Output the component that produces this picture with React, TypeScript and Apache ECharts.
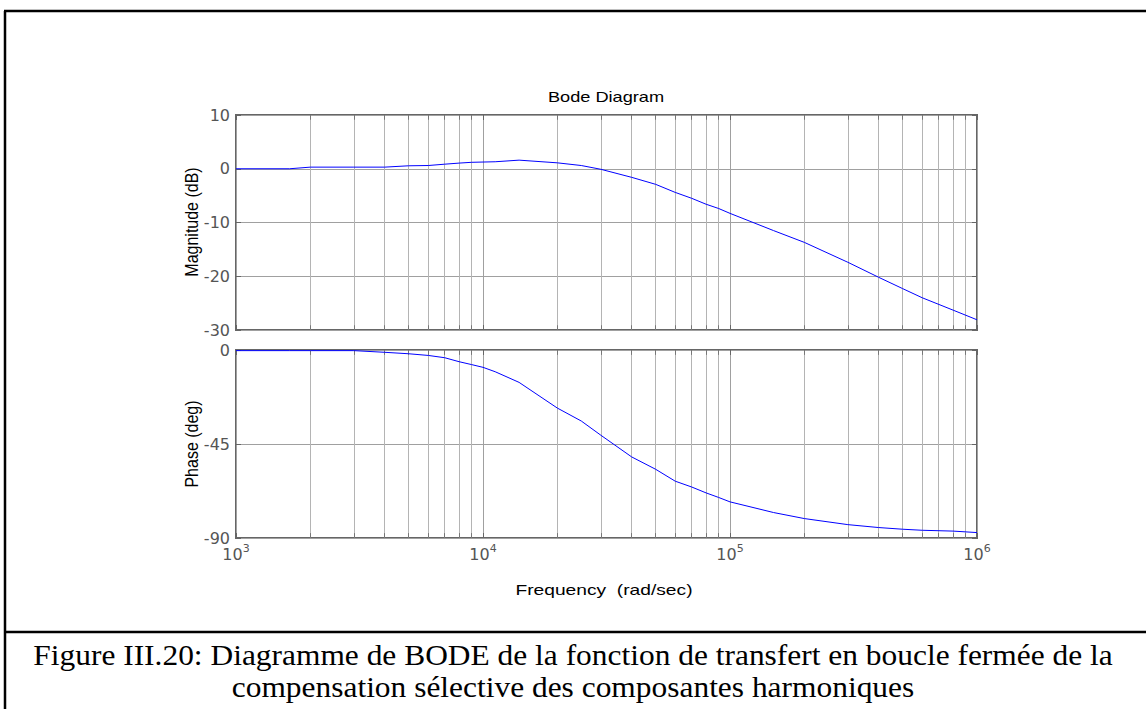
import React, { useEffect, useRef } from 'react';
import * as echarts from 'echarts';

const FREQ = [1000, 1650, 2000, 3000, 4000, 5000, 6000, 7000, 8000, 9000, 10000, 11200, 14000, 20000, 25000, 30000, 40000, 50000, 60000, 70000, 80000, 90000, 100000, 150000, 200000, 300000, 400000, 500000, 600000, 800000, 1000000];
const MAG_DB = [0, 0, 0.3, 0.3, 0.3, 0.55, 0.6, 0.85, 1.05, 1.2, 1.25, 1.3, 1.6, 1.1, 0.6, -0.1, -1.6, -2.9, -4.4, -5.5, -6.6, -7.4, -8.3, -11.5, -13.7, -17.4, -20.2, -22.3, -24.0, -26.3, -28.1];
const PHASE_DEG = [-0.3, -0.3, -0.3, -0.3, -1.1, -1.8, -2.6, -3.7, -5.6, -7.0, -8.3, -10.4, -15.5, -27.8, -34.0, -40.8, -51.2, -57.1, -62.8, -65.6, -68.4, -70.6, -72.7, -77.8, -80.7, -83.6, -85.0, -85.8, -86.3, -86.7, -87.4];
const MINOR_FREQS = [2000, 3000, 4000, 5000, 6000, 7000, 8000, 9000, 20000, 30000, 40000, 50000, 60000, 70000, 80000, 90000, 200000, 300000, 400000, 500000, 600000, 700000, 800000, 900000];

const TITLE = 'Bode Diagram';
const MAG_LABEL = 'Magnitude (dB)';
const PHASE_LABEL = 'Phase (deg)';
const FREQ_LABEL = 'Frequency  (rad/sec)';
const CAPTION_1 = 'Figure III.20: Diagramme de BODE de la fonction de transfert en boucle fermée de la';
const CAPTION_2 = 'compensation sélective des composantes harmoniques';

const TICK_COLOR = '#555555';
const GRID_COLOR = '#a0a0a0';
const MINOR_GRID_COLOR = '#b4b4b4';

function measure(text: string, font: string): number {
  const c = document.createElement('canvas').getContext('2d');
  if (!c) return 1000;
  c.font = font;
  return c.measureText(text).width;
}

export default function App() {
  const ref = useRef<HTMLDivElement>(null);

  useEffect(() => {
    if (!ref.current) return;
    const chart = echarts.init(ref.current, undefined, { renderer: 'svg' });

    const logAxis = { type: 'log', logBase: 10, min: 1000, max: 1000000, splitNumber: 3 };
    const tick = { show: true, inside: true, length: 5, lineStyle: { color: '#666', width: 1 } };

    const xAxis = [0, 1].flatMap((g) => [
      {
        ...logAxis,
        gridIndex: g,
        position: 'bottom',
        axisLine: { show: false, onZero: false },
        axisTick: tick,
        axisLabel:
          g === 0
            ? { show: false }
            : {
                show: true,
                margin: 5,
                formatter: (v: number) => `{b|10}{s|${Math.round(Math.log10(v))}}`,
                rich: {
                  b: { fontSize: 16, color: TICK_COLOR, fontFamily: 'DejaVu Sans' },
                  s: { fontSize: 11, color: TICK_COLOR, fontFamily: 'DejaVu Sans', padding: [0, 0, 12, 0] },
                },
              },
        splitLine: { show: true, lineStyle: { color: GRID_COLOR, width: 1 } },
      },
      {
        ...logAxis,
        gridIndex: g,
        position: 'top',
        axisLine: { show: false, onZero: false },
        axisTick: tick,
        axisLabel: { show: false },
        splitLine: { show: false },
      },
    ]);

    const yRanges = [
      { min: -30, max: 10, interval: 10 },
      { min: -90, max: 0, interval: 45 },
    ];
    const yAxis = yRanges.flatMap((r, g) => [
      {
        type: 'value',
        gridIndex: g,
        ...r,
        position: 'left',
        axisLine: { show: false, onZero: false },
        axisTick: tick,
        axisLabel: { color: TICK_COLOR, fontSize: 16, fontFamily: 'DejaVu Sans', margin: 6 },
        splitLine: { show: true, lineStyle: { color: GRID_COLOR, width: 1 } },
      },
      {
        type: 'value',
        gridIndex: g,
        ...r,
        position: 'right',
        axisLine: { show: false, onZero: false },
        axisTick: tick,
        axisLabel: { show: false },
        splitLine: { show: false },
      },
    ]);

    const minorGrid = {
      silent: true,
      symbol: ['none', 'none'],
      label: { show: false },
      animation: false,
      lineStyle: { color: MINOR_GRID_COLOR, width: 1, type: 'solid' },
      data: MINOR_FREQS.map((f) => ({ xAxis: f })),
    };

    const tickSeg = (r: { min: number; max: number }, frac: number) => ({
      silent: true,
      symbol: ['none', 'none'],
      label: { show: false },
      animation: false,
      lineStyle: { color: '#777', width: 1, type: 'solid' },
      data: MINOR_FREQS.flatMap((f) => [
        [{ coord: [f, r.max] }, { coord: [f, r.max - (r.max - r.min) * frac] }],
        [{ coord: [f, r.min] }, { coord: [f, r.min + (r.max - r.min) * frac] }],
      ]),
    });

    const capFont = '29px "Liberation Serif"';
    const capScale = 1080 / measure(CAPTION_1, capFont);

    chart.setOption({
      animation: false,
      backgroundColor: '#ffffff',
      grid: [
        { left: 236, top: 115, width: 741, height: 215, show: true, borderColor: '#666', borderWidth: 2, backgroundColor: 'transparent' },
        { left: 236, top: 350, width: 741, height: 188, show: true, borderColor: '#666', borderWidth: 2, backgroundColor: 'transparent' },
      ],
      xAxis,
      yAxis,
      series: [
        {
          type: 'line',
          xAxisIndex: 0,
          yAxisIndex: 0,
          data: FREQ.map((f, i) => [f, MAG_DB[i]]),
          symbol: 'none',
          lineStyle: { color: '#0000ff', width: 1 },
          z: 5,
          markLine: minorGrid,
        },
        {
          type: 'line',
          xAxisIndex: 2,
          yAxisIndex: 2,
          data: FREQ.map((f, i) => [f, PHASE_DEG[i]]),
          symbol: 'none',
          lineStyle: { color: '#0000ff', width: 1 },
          z: 5,
          markLine: minorGrid,
        },
        { type: 'line', xAxisIndex: 0, yAxisIndex: 0, data: [], markLine: tickSeg(yRanges[0], 0.022) },
        { type: 'line', xAxisIndex: 2, yAxisIndex: 2, data: [], markLine: tickSeg(yRanges[1], 0.026) },
      ],
      graphic: [
        { type: 'line', shape: { x1: 5, y1: 11, x2: 5, y2: 709 }, style: { stroke: '#000', lineWidth: 2.5 } },
        { type: 'line', shape: { x1: 4, y1: 11, x2: 1146, y2: 11 }, style: { stroke: '#000', lineWidth: 2.5 } },
        { type: 'line', shape: { x1: 4, y1: 632, x2: 1146, y2: 632 }, style: { stroke: '#000', lineWidth: 2.5 } },
        {
          type: 'text', x: 606, y: 97, scaleX: 1.3,
          style: { text: TITLE, font: '14px "Liberation Sans"', fill: '#000', textAlign: 'center', textVerticalAlign: 'middle' },
        },
        {
          type: 'text', x: 191, y: 222, rotation: Math.PI / 2, scaleY: 1.2,
          style: { text: MAG_LABEL, font: '16px "Liberation Sans"', fill: '#000', textAlign: 'center', textVerticalAlign: 'middle' },
        },
        {
          type: 'text', x: 191, y: 444, rotation: Math.PI / 2, scaleY: 1.2,
          style: { text: PHASE_LABEL, font: '16px "Liberation Sans"', fill: '#000', textAlign: 'center', textVerticalAlign: 'middle' },
        },
        {
          type: 'text', x: 604, y: 590, scaleX: 1.28,
          style: { text: FREQ_LABEL, font: '15px "Liberation Sans"', fill: '#000', textAlign: 'center', textVerticalAlign: 'middle' },
        },
        {
          type: 'text', x: 573, y: 655, scaleX: capScale,
          style: { text: CAPTION_1, font: capFont, fill: '#000', textAlign: 'center', textVerticalAlign: 'middle' },
        },
        {
          type: 'text', x: 573, y: 687, scaleX: capScale,
          style: { text: CAPTION_2, font: capFont, fill: '#000', textAlign: 'center', textVerticalAlign: 'middle' },
        },
      ],
    });

    return () => chart.dispose();
  }, []);

  return (
    <div
      ref={ref}
      style={{ position: 'fixed', left: 0, top: 0, width: 1146, height: 709, background: '#fff' }}
    />
  );
}
